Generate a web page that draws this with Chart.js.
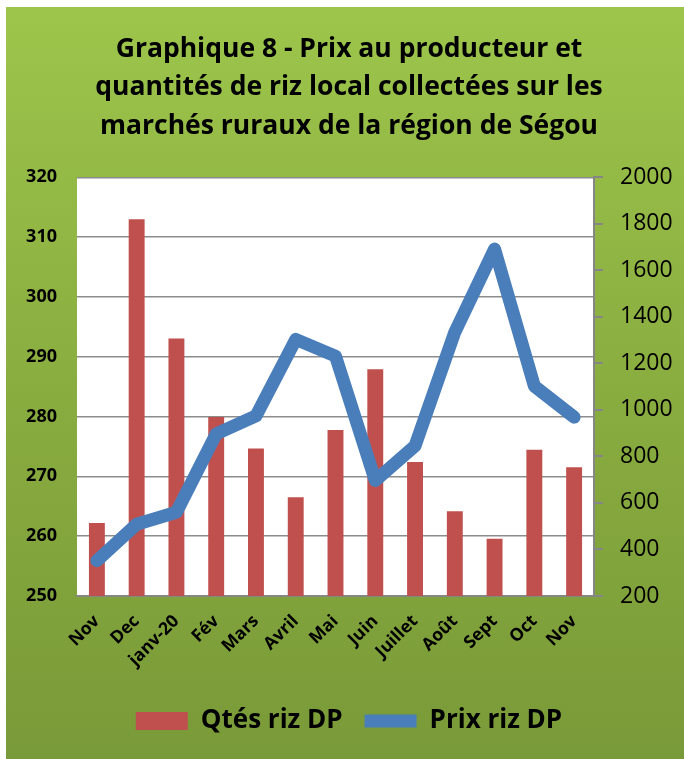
<!DOCTYPE html>
<html>
<head>
<meta charset="utf-8">
<script src="https://cdn.jsdelivr.net/npm/chart.js@4.4.1/dist/chart.umd.min.js"></script>
<style>
  html, body { margin: 0; padding: 0; background: #ffffff; width: 684px; height: 759px; overflow: hidden; }
  #bg { position: absolute; left: 6px; top: 7px; width: 678px; height: 752px;
        background: linear-gradient(to bottom, #9dc54b 0%, #8aad40 50%, #799a38 100%); }
  #c { position: absolute; left: 0; top: 0; }
</style>
</head>
<body>
<div id="bg"></div>
<canvas id="c" width="684" height="759"></canvas>
<script>
const titleLines = [
  "Graphique 8 - Prix au producteur et",
  "quantités de riz local collectées sur les",
  "marchés ruraux de la région de Ségou"
];
const categories = ["Nov", "Dec", "janv-20", "Fév", "Mars", "Avril", "Mai", "Juin", "Juillet", "Août", "Sept", "Oct", "Nov"];
const qtesRizDP = [514, 1820, 1307, 969, 834, 625, 914, 1175, 776, 564, 446, 829, 753];
const prixRizDP = [255.9, 262.0, 264.0, 277.1, 280.1, 292.9, 290.1, 269.3, 275.1, 294.1, 308.0, 285.1, 279.9];
const leftTicks = [250, 260, 270, 280, 290, 300, 310, 320];
const rightTicks = [200, 400, 600, 800, 1000, 1200, 1400, 1600, 1800, 2000];
const seriesNames = ["Qtés riz DP", "Prix riz DP"];

const FONT = "'Open Sans', Lato, 'DejaVu Sans', sans-serif";
Chart.defaults.font.family = FONT;
Chart.defaults.color = "#000000";

const plotBg = {
  id: "plotBg",
  beforeDraw(chart) {
    const a = chart.chartArea, ctx = chart.ctx;
    ctx.save();
    ctx.fillStyle = "#ffffff";
    ctx.fillRect(a.left, a.top, a.right - a.left, a.bottom - a.top);
    ctx.restore();
  }
};

new Chart(document.getElementById("c"), {
  data: {
    labels: categories,
    datasets: [
      {
        type: "bar",
        label: seriesNames[0],
        data: qtesRizDP,
        yAxisID: "y1",
        backgroundColor: "#c0504d",
        borderWidth: 0,
        barPercentage: 0.4,
        categoryPercentage: 1.0,
        order: 2,
        pointStyle: "rect"
      },
      {
        type: "line",
        label: seriesNames[1],
        data: prixRizDP,
        yAxisID: "y",
        borderColor: "#4a7ebb",
        backgroundColor: "#4a7ebb",
        borderWidth: 13,
        borderCapStyle: "round",
        borderJoinStyle: "round",
        pointRadius: 0,
        pointHoverRadius: 0,
        tension: 0,
        fill: false,
        order: 1,
        pointStyle: "line"
      }
    ]
  },
  options: {
    responsive: false,
    devicePixelRatio: 1,
    animation: false,
    layout: { padding: { top: 0, left: 14, right: 0, bottom: 15 } },
    plugins: {
      title: {
        display: true,
        text: titleLines,
        color: "#000000",
        font: { family: FONT, size: 26.5, weight: "bold", lineHeight: 1.45 },
        padding: { top: 30, bottom: 32 }
      },
      legend: {
        display: true,
        position: "bottom",
        labels: {
          usePointStyle: true,
          pointStyleWidth: 52,
          boxHeight: 18,
          padding: 22,
          color: "#000000",
          font: { family: FONT, size: 26, weight: "bold" },
          sort: (a, b) => a.datasetIndex - b.datasetIndex
        }
      },
      tooltip: { enabled: false }
    },
    scales: {
      x: {
        type: "category",
        grid: { display: false, drawTicks: false },
        border: { display: true, color: "#868686", width: 2 },
        ticks: {
          maxRotation: 45, minRotation: 45, padding: 15,
          color: "#000000",
          font: { family: FONT, size: 17.5, weight: "bold" }
        },
        afterFit(s) { s.height = 90; }
      },
      y: {
        position: "left",
        min: 250, max: 320,
        afterBuildTicks(s) { s.ticks = leftTicks.map(v => ({ value: v })); },
        grid: { color: "#8c8c8c", lineWidth: 1.5, drawTicks: false },
        border: { display: false },
        ticks: {
          padding: 20,
          color: "#000000",
          font: { family: FONT, size: 18, weight: "bold" }
        },
        afterFit(s) { s.width = 63; }
      },
      y1: {
        position: "right",
        min: 200, max: 2000,
        afterBuildTicks(s) { s.ticks = rightTicks.map(v => ({ value: v })); },
        grid: { drawOnChartArea: false, drawTicks: true, tickLength: 9, color: "#868686", lineWidth: 2 },
        border: { display: true, color: "#868686", width: 2 },
        ticks: {
          padding: 17,
          color: "#000000",
          font: { family: FONT, size: 23, weight: "normal" },
          callback: (v) => String(v)
        },
        afterFit(s) { s.width = 90; }
      }
    }
  },
  plugins: [plotBg]
});
</script>
</body>
</html>
